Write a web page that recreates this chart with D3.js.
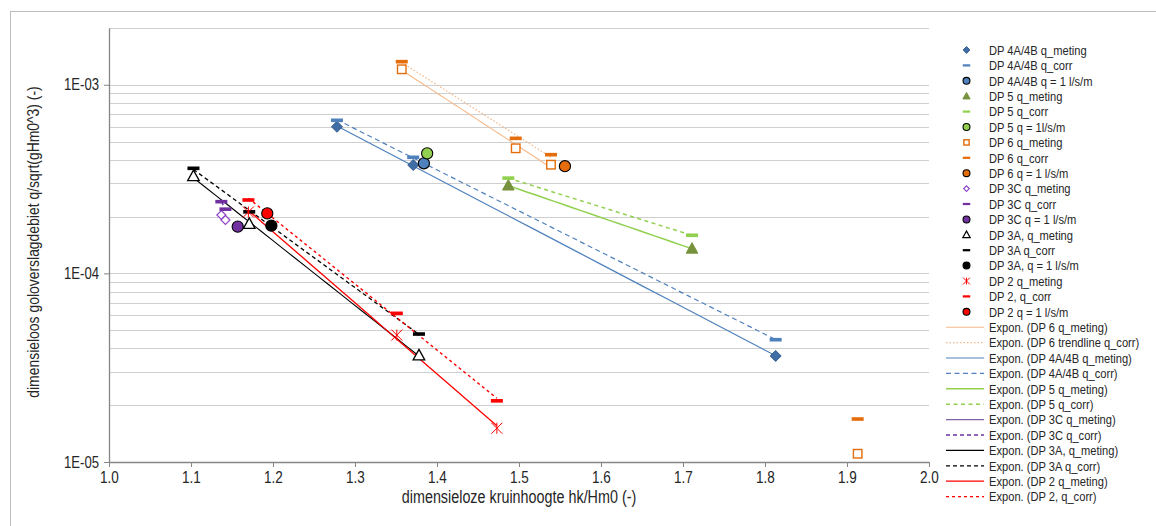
<!DOCTYPE html>
<html>
<head>
<meta charset="utf-8">
<script src="https://cdn.jsdelivr.net/npm/d3@7"></script>
<style>
  html, body { margin: 0; padding: 0; background: #fff; }
  svg { display: block; }
  text { font-family: "Liberation Sans", Arial, sans-serif; fill: #262626; }
</style>
</head>
<body>
<svg id="chart" width="1156" height="526"></svg>
<script>
// ---- data: dimensionless crest height (x) vs dimensionless overtopping discharge (y) ----
const xTickValues = [1.0, 1.1, 1.2, 1.3, 1.4, 1.5, 1.6, 1.7, 1.8, 1.9, 2.0];
const yTickValues = [1e-5, 1e-4, 1e-3];
const yTickLabels = ["1E-05", "1E-04", "1E-03"];

// DP 4A/4B
const dp4X = [1.278, 1.371, 1.813];
const dp4Meting = [5.99e-4, 3.755e-4, 3.65e-5];
const dp4Corr = [6.48e-4, 4.125e-4, 4.45e-5];
const dp4Q1 = [[1.384, 3.835e-4]];

// DP 5
const dp5X = [1.487, 1.711];
const dp5Meting = [2.92e-4, 1.351e-4];
const dp5Corr = [3.20e-4, 1.592e-4];
const dp5Q1 = [[1.388, 4.33e-4]];

// DP 6
const dp6X = [1.357, 1.496, 1.539];
const dp6Meting = [1.208e-3, 4.605e-4, 3.77e-4];
const dp6Corr = [1.326e-3, 5.20e-4, 4.26e-4];
const dp6Q1 = [[1.556, 3.70e-4]];
const dp6ExtraX = [1.913];
const dp6ExtraMeting = [1.106e-5];
const dp6ExtraCorr = [1.69e-5];

// DP 3C
const dp3cX = [1.137, 1.142];
const dp3cMeting = [2.04e-4, 1.919e-4];
const dp3cCorr = [2.40e-4, 2.19e-4];
const dp3cQ1 = [[1.157, 1.769e-4]];

// DP 3A
const dp3aX = [1.103, 1.171, 1.378];
const dp3aMeting = [3.275e-4, 1.827e-4, 3.67e-5];
const dp3aCorr = [3.607e-4, 2.12e-4, 4.77e-5];
const dp3aQ1 = [[1.198, 1.79e-4]];

// DP 2
const dp2X = [1.170, 1.351, 1.473];
const dp2Meting = [2.116e-4, 4.71e-5, 1.51e-5];
const dp2Corr = [2.45e-4, 6.14e-5, 2.11e-5];
const dp2Q1 = [[1.193, 2.08e-4]];

const zip = (xs, ys) => xs.map((x, i) => [x, ys[i]]);

// condensed lettering: horizontal squeeze applied to every label
const SQ = 0.82;
const TXT = "#262626";

// ---- layout ----
const svg = d3.select("#chart");
const plot = { left: 109, right: 929, top: 28, bottom: 462 };

const x = d3.scaleLinear().domain([1.0, 2.0]).range([plot.left, plot.right]);
const y = d3.scaleLog().domain([1e-5, 2e-3]).range([plot.bottom, plot.top]);

// outer chart frame
svg.append("rect")
  .attr("x", 10.5).attr("y", 11.5)
  .attr("width", 1170).attr("height", 540)
  .attr("fill", "none").attr("stroke", "#bdbdbd").attr("stroke-width", 1);

// minor + major horizontal gridlines (log)
const gridVals = [];
[1e-5, 1e-4, 1e-3].forEach(d => {
  for (let k = 1; k <= 9; k++) {
    const v = d * k;
    if (v > 1e-5 && v <= 2e-3 + 1e-12) gridVals.push(v);
  }
});
svg.append("g").selectAll("line").data(gridVals).join("line")
  .attr("x1", plot.left).attr("x2", plot.right)
  .attr("y1", d => Math.round(y(d)) + 0.5).attr("y2", d => Math.round(y(d)) + 0.5)
  .attr("stroke", "#cfcfcf").attr("stroke-width", 1);

// axes
const xAxis = d3.axisBottom(x).tickValues(xTickValues).tickFormat(d3.format(".1f"))
  .tickSizeInner(5).tickSizeOuter(0).tickPadding(4);
const gx = svg.append("g").attr("transform", `translate(0,${plot.bottom})`).call(xAxis);
gx.select(".domain").attr("stroke", "#868686").attr("stroke-width", 1.3);
gx.selectAll(".tick line").attr("stroke", "#868686");
gx.selectAll(".tick text").attr("font-size", 16.5).attr("fill", TXT)
  .attr("font-family", '"Liberation Sans", Arial, sans-serif')
  .attr("transform", `scale(${SQ},1)`);

const yAxis = d3.axisLeft(y).tickValues(yTickValues)
  .tickFormat((d, i) => yTickLabels[i]).tickSizeInner(5).tickSizeOuter(0).tickPadding(4);
const gy = svg.append("g").attr("transform", `translate(${plot.left},0)`).call(yAxis);
gy.select(".domain").attr("stroke", "#868686").attr("stroke-width", 1.3);
gy.selectAll(".tick line").attr("stroke", "#868686");
gy.selectAll(".tick text").attr("font-size", 16).attr("fill", TXT)
  .attr("font-family", '"Liberation Sans", Arial, sans-serif')
  .attr("x", -10 / SQ)
  .attr("transform", `scale(${SQ},1)`);

// axis titles
svg.append("text")
  .attr("transform", `translate(${(plot.left + plot.right) / 2},503) scale(${SQ},1)`)
  .attr("text-anchor", "middle").attr("font-size", 17.5).attr("fill", TXT)
  .text("dimensieloze kruinhoogte hk/Hm0 (-)");
svg.append("text")
  .attr("transform", `translate(39,${(plot.top + plot.bottom) / 2 - 3}) rotate(-90) scale(${SQ},1)`)
  .attr("text-anchor", "middle").attr("font-size", 17).attr("fill", TXT)
  .text("dimensieloos goloverslagdebiet q/sqrt(gHm0^3) (-)");

// ---- exponential trendlines (least squares on ln y) ----
function expFit(pts) {
  const mx = d3.mean(pts, p => p[0]);
  const my = d3.mean(pts, p => Math.log(p[1]));
  let sxy = 0, sxx = 0;
  pts.forEach(p => { sxy += (p[0] - mx) * (Math.log(p[1]) - my); sxx += (p[0] - mx) ** 2; });
  const b = sxy / sxx, a = my - b * mx;
  const [x0, x1] = d3.extent(pts, p => p[0]);
  return d3.range(0, 21).map(i => { const xv = x0 + (x1 - x0) * i / 20; return [xv, Math.exp(a + b * xv)]; });
}
const line = d3.line().x(d => x(d[0])).y(d => y(d[1]));

const trends = [
  { pts: zip(dp6X, dp6Meting), color: "#f6b98a", dash: null, w: 1.1, label: "Expon. (DP 6 q_meting)" },
  { pts: zip(dp6X, dp6Corr), color: "#f6b98a", dash: "1.5,2", w: 1.3, label: "Expon. (DP 6 trendline q_corr)" },
  { pts: zip(dp4X, dp4Meting), color: "#4f81bd", dash: null, w: 1.2, label: "Expon. (DP 4A/4B q_meting)" },
  { pts: zip(dp4X, dp4Corr), color: "#4f81bd", dash: "5,3.5", w: 1.2, label: "Expon. (DP 4A/4B q_corr)" },
  { pts: zip(dp5X, dp5Meting), color: "#92d050", dash: null, w: 1.5, label: "Expon. (DP 5 q_meting)" },
  { pts: zip(dp5X, dp5Corr), color: "#92d050", dash: "4,3.5", w: 1.5, label: "Expon. (DP 5 q_corr)" },
  { pts: zip(dp3cX, dp3cMeting), color: "#8064a2", dash: null, w: 1.2, label: "Expon. (DP 3C q_meting)" },
  { pts: zip(dp3cX, dp3cCorr), color: "#7030a0", dash: "4,3", w: 1.4, label: "Expon. (DP 3C q_corr)" },
  { pts: zip(dp3aX, dp3aMeting), color: "#000000", dash: null, w: 1.1, label: "Expon. (DP 3A, q_meting)" },
  { pts: zip(dp3aX, dp3aCorr), color: "#000000", dash: "4,3", w: 1.3, label: "Expon. (DP 3A q_corr)" },
  { pts: zip(dp2X, dp2Meting), color: "#ff0000", dash: null, w: 1.3, label: "Expon. (DP 2 q_meting)" },
  { pts: zip(dp2X, dp2Corr), color: "#ff0000", dash: "3,3", w: 1.4, label: "Expon. (DP 2, q_corr)" }
];

const gTrend = svg.append("g");
trends.forEach(t => {
  gTrend.append("path").datum(expFit(t.pts)).attr("d", line)
    .attr("fill", "none").attr("stroke", t.color).attr("stroke-width", t.w)
    .attr("stroke-dasharray", t.dash);
});

// ---- marker painters ----
function drawMarker(g, type, cx, cy, s) {
  // s = scale factor (1 in plot, smaller in legend)
  switch (type.kind) {
    case "diamond": {
      const r = 5.5 * s;
      g.append("path").attr("d", `M${cx},${cy - r}L${cx + r},${cy}L${cx},${cy + r}L${cx - r},${cy}Z`)
        .attr("fill", type.fill).attr("stroke", type.stroke).attr("stroke-width", 1);
      break;
    }
    case "hdiamond": {
      const r = 4.5 * s;
      g.append("path").attr("d", `M${cx},${cy - r}L${cx + r},${cy}L${cx},${cy + r}L${cx - r},${cy}Z`)
        .attr("fill", "#fff").attr("stroke", type.stroke).attr("stroke-width", 1.2);
      break;
    }
    case "dash": {
      const w = 12 * s, h = 3.6 * s;
      g.append("rect").attr("x", cx - w / 2).attr("y", cy - h / 2).attr("width", w).attr("height", h)
        .attr("fill", type.fill);
      break;
    }
    case "circle": {
      g.append("circle").attr("cx", cx).attr("cy", cy).attr("r", 5.6 * s)
        .attr("fill", type.fill).attr("stroke", "#000").attr("stroke-width", 1.1);
      break;
    }
    case "triangle": {
      const hw = 5.8 * s, h = 10.5 * s;
      g.append("path")
        .attr("d", `M${cx},${cy - h * 0.58}L${cx + hw},${cy + h * 0.42}L${cx - hw},${cy + h * 0.42}Z`)
        .attr("fill", type.fill).attr("stroke", type.stroke).attr("stroke-width", type.sw || 1);
      break;
    }
    case "square": {
      const a = 8.5 * s;
      g.append("rect").attr("x", cx - a / 2).attr("y", cy - a / 2).attr("width", a).attr("height", a)
        .attr("fill", "#fff").attr("stroke", type.stroke).attr("stroke-width", 1.4);
      break;
    }
    case "star": {
      const r = 5.5 * s;
      const p = `M${cx - r},${cy - r}L${cx + r},${cy + r}M${cx - r},${cy + r}L${cx + r},${cy - r}M${cx},${cy - r}L${cx},${cy + r}`;
      g.append("path").attr("d", p).attr("fill", "none").attr("stroke", type.stroke).attr("stroke-width", 1);
      break;
    }
  }
}

const M = {
  dp4Meting: { kind: "diamond", fill: "#3f6ea6", stroke: "#385d8a" },
  dp4Corr: { kind: "dash", fill: "#4f81bd" },
  dp4Q1: { kind: "circle", fill: "#4f81bd" },
  dp5Meting: { kind: "triangle", fill: "#76923c", stroke: "#76923c" },
  dp5Corr: { kind: "dash", fill: "#92d050" },
  dp5Q1: { kind: "circle", fill: "#92d050" },
  dp6Meting: { kind: "square", stroke: "#e46c0a" },
  dp6Corr: { kind: "dash", fill: "#e46c0a" },
  dp6Q1: { kind: "circle", fill: "#e46c0a" },
  dp3cMeting: { kind: "hdiamond", stroke: "#8e44c8" },
  dp3cCorr: { kind: "dash", fill: "#7030a0" },
  dp3cQ1: { kind: "circle", fill: "#7030a0" },
  dp3aMeting: { kind: "triangle", fill: "#fff", stroke: "#000", sw: 1.3 },
  dp3aCorr: { kind: "dash", fill: "#000" },
  dp3aQ1: { kind: "circle", fill: "#000" },
  dp2Meting: { kind: "star", stroke: "#ff0000" },
  dp2Corr: { kind: "dash", fill: "#ff0000" },
  dp2Q1: { kind: "circle", fill: "#ff0000" }
};

const series = [
  { pts: zip(dp4X, dp4Meting), m: M.dp4Meting, label: "DP 4A/4B q_meting" },
  { pts: zip(dp4X, dp4Corr), m: M.dp4Corr, label: "DP 4A/4B q_corr" },
  { pts: dp4Q1, m: M.dp4Q1, label: "DP 4A/4B q = 1 l/s/m" },
  { pts: zip(dp5X, dp5Meting), m: M.dp5Meting, label: "DP 5 q_meting" },
  { pts: zip(dp5X, dp5Corr), m: M.dp5Corr, label: "DP 5 q_corr" },
  { pts: dp5Q1, m: M.dp5Q1, label: "DP 5 q = 1l/s/m" },
  { pts: zip(dp6X, dp6Meting).concat(zip(dp6ExtraX, dp6ExtraMeting)), m: M.dp6Meting, label: "DP 6 q_meting" },
  { pts: zip(dp6X, dp6Corr).concat(zip(dp6ExtraX, dp6ExtraCorr)), m: M.dp6Corr, label: "DP 6 q_corr" },
  { pts: dp6Q1, m: M.dp6Q1, label: "DP 6 q = 1 l/s/m" },
  { pts: zip(dp3cX, dp3cMeting), m: M.dp3cMeting, label: "DP 3C q_meting" },
  { pts: zip(dp3cX, dp3cCorr), m: M.dp3cCorr, label: "DP 3C q_corr" },
  { pts: dp3cQ1, m: M.dp3cQ1, label: "DP 3C q = 1 l/s/m" },
  { pts: zip(dp3aX, dp3aMeting), m: M.dp3aMeting, label: "DP 3A, q_meting" },
  { pts: zip(dp3aX, dp3aCorr), m: M.dp3aCorr, label: "DP 3A q_corr" },
  { pts: dp3aQ1, m: M.dp3aQ1, label: "DP 3A, q = 1 l/s/m" },
  { pts: zip(dp2X, dp2Meting), m: M.dp2Meting, label: "DP 2 q_meting" },
  { pts: zip(dp2X, dp2Corr), m: M.dp2Corr, label: "DP 2, q_corr" },
  { pts: dp2Q1, m: M.dp2Q1, label: "DP 2 q = 1 l/s/m" }
];

const gMarks = svg.append("g");
series.forEach(s => {
  s.pts.forEach(p => drawMarker(gMarks, s.m, x(p[0]), y(p[1]), 1));
});

// ---- legend ----
const legend = svg.append("g");
const lgTop = 50, lgStep = 15.4, lgMarkX = 966.5, lgTextX = 989;
function legendText(cy, label) {
  legend.append("text")
    .attr("transform", `translate(${lgTextX},${cy + 4.7}) scale(${SQ},1)`)
    .attr("font-size", 13.6).attr("fill", TXT).text(label);
}
series.forEach((s, i) => {
  const cy = lgTop + i * lgStep;
  drawMarker(legend, s.m, lgMarkX, cy, 0.62);
  legendText(cy, s.label);
});
trends.forEach((t, j) => {
  const cy = lgTop + (series.length + j) * lgStep;
  legend.append("line").attr("x1", 946).attr("x2", 984).attr("y1", cy).attr("y2", cy)
    .attr("stroke", t.color).attr("stroke-width", t.w).attr("stroke-dasharray", t.dash);
  legendText(cy, t.label);
});
</script>
</body>
</html>
